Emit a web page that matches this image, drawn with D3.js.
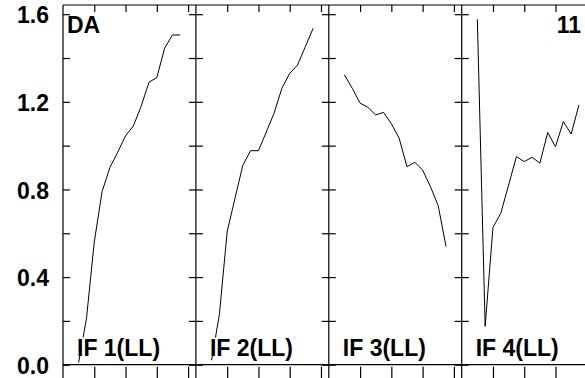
<!DOCTYPE html>
<html><head><meta charset="utf-8">
<script src="https://cdn.jsdelivr.net/npm/d3@7"></script>
<style>
html,body{margin:0;padding:0;background:#fff;}
svg{display:block;}
text{font-family:"Liberation Sans",Arial,Helvetica,sans-serif;font-weight:bold;fill:#000;}
</style></head>
<body>
<svg id="chart" width="585" height="378"></svg>
<script>
// ---- data ----
const panelLabels = ["IF 1(LL)", "IF 2(LL)", "IF 3(LL)", "IF 4(LL)"];
const steps = [2, 3, 4, 5, 6, 7, 8, 9, 10, 11, 12, 13, 14, 15];
const if1 = [0.01, 0.21, 0.56, 0.79, 0.90, 0.97, 1.045, 1.09, 1.18, 1.29, 1.31, 1.445, 1.505, 1.505];
const if2 = [0.02, 0.228, 0.607, 0.76, 0.91, 0.977, 0.977, 1.062, 1.148, 1.262, 1.33, 1.368, 1.452, 1.536];
const if3 = [1.323, 1.262, 1.194, 1.175, 1.14, 1.152, 1.10, 1.034, 0.904, 0.924, 0.889, 0.813, 0.725, 0.539];
const if4 = [1.577, 0.175, 0.627, 0.691, 0.82, 0.95, 0.927, 0.947, 0.92, 1.06, 0.995, 1.11, 1.053, 1.186];
const seriesList = [if1, if2, if3, if4];
const xTicks = [4, 8, 12, 16];
const yTicks = [0, 0.2, 0.4, 0.6, 0.8, 1.0, 1.2, 1.4, 1.6];
const yLabelTicks = [0, 0.4, 0.8, 1.2, 1.6];
const cornerLeft = "DA";
const cornerRight = "11";

// ---- layout ----
(function () {
const svg = d3.select("#chart");
const mLeft = 63, mTop = 5, mBottom = 364.7, panelW = 132.9;
const y = d3.scaleLinear().domain([0, 1.642]).range([mBottom, mTop]);

const plotG = svg.append("g");

seriesList.forEach((vals, i) => {
  const x0 = mLeft + i * panelW;
  const x = d3.scaleLinear().domain([0, 17]).range([x0, x0 + panelW]);
  const g = plotG.append("g");

  const line = d3.line().x((d, k) => x(steps[k])).y(d => y(d));
  g.append("path").datum(vals).attr("d", line)
    .attr("fill", "none").attr("stroke", "#000").attr("stroke-width", 1)
    .attr("stroke-linejoin", "round");

  const yl = d3.axisLeft(y).tickValues(yTicks).tickSize(-7).tickFormat("");
  const yr = d3.axisRight(y).tickValues(yTicks).tickSize(-7).tickFormat("");
  g.append("g").attr("transform", `translate(${x0},0)`).call(yl).call(s => s.select(".domain").remove());
  g.append("g").attr("transform", `translate(${x0 + panelW},0)`).call(yr).call(s => s.select(".domain").remove());

  const xt = d3.axisTop(x).tickValues(xTicks).tickSize(-7).tickFormat("");
  const xb = d3.axisBottom(x).tickValues(xTicks).tickSize(12).tickFormat("");
  g.append("g").attr("transform", `translate(0,${mTop})`).call(xt).call(s => s.select(".domain").remove());
  g.append("g").attr("transform", `translate(0,${mBottom + 2})`).call(xb).call(s => s.select(".domain").remove());

  const lab = g.append("g");
  const t = lab.append("text").attr("x", x0 + 14).attr("y", 355.5)
    .attr("font-size", 23).text(panelLabels[i]);
  const bb = t.node().getBBox();
  lab.insert("rect", "text").attr("x", bb.x + 1.5).attr("y", bb.y + 3)
    .attr("width", bb.width - 1.5).attr("height", 355 - bb.y - 3).attr("fill", "#fff");
});

const frame = svg.append("g").attr("stroke", "#000").attr("stroke-width", 1.2);
frame.append("line").attr("x1", mLeft).attr("x2", mLeft + 4 * panelW).attr("y1", mTop).attr("y2", mTop);
frame.append("line").attr("x1", mLeft).attr("x2", mLeft + 4 * panelW).attr("y1", mBottom).attr("y2", mBottom);
d3.range(5).forEach(i => {
  frame.append("line").attr("x1", mLeft + i * panelW).attr("x2", mLeft + i * panelW)
    .attr("y1", mTop).attr("y2", 380);
});

svg.selectAll(".tick line").attr("stroke", "#000").attr("stroke-width", 1.2);

const yLab = d3.axisLeft(y).tickValues(yLabelTicks).tickSize(0).tickPadding(14).tickFormat(d3.format(".1f"));
svg.append("g").attr("transform", `translate(${mLeft},0)`).call(yLab)
  .call(s => s.select(".domain").remove())
  .call(s => s.selectAll("text").attr("font-size", 23).attr("dy", "0.38em")
    .style("font-family", '"Liberation Sans",Arial,sans-serif').style("font-weight", "bold"));

svg.append("text").attr("x", mLeft + 4).attr("y", 33.3).attr("font-size", 23).text(cornerLeft);
svg.append("text").attr("x", 581).attr("y", 33).attr("text-anchor", "end").attr("font-size", 23).text(cornerRight);
})();
</script>
</body></html>
